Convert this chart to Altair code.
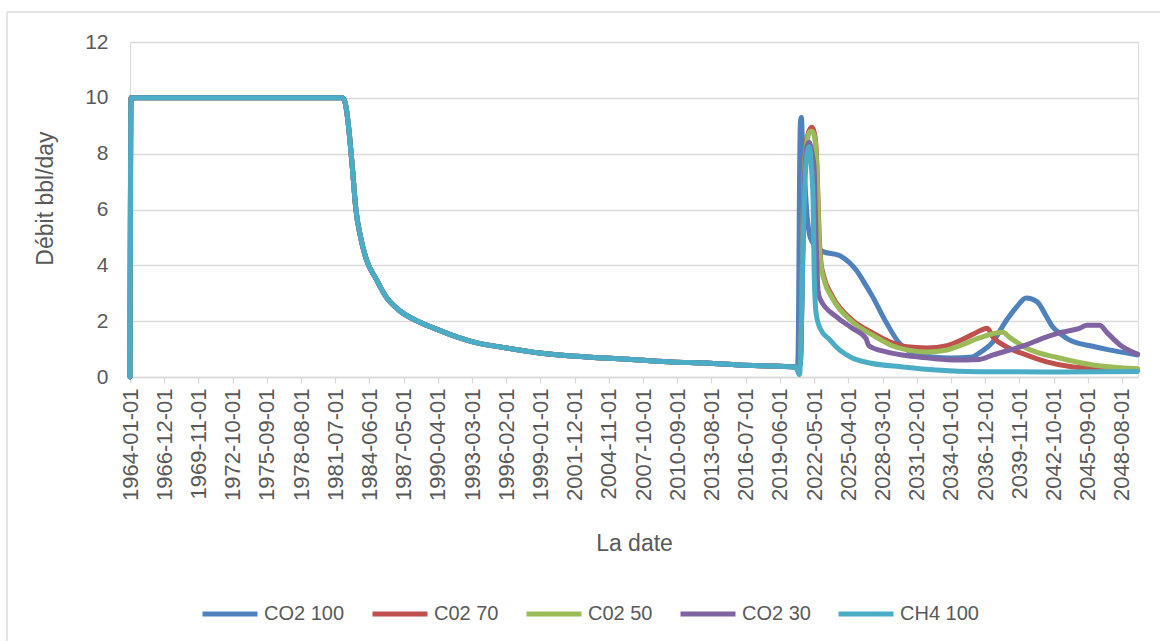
import altair as alt
import pandas as pd

series_names = ["CO2 100", "C02 70", "C02 50", "CO2 30", "CH4 100"]
series_colors = ["#4F81BD", "#C0504D", "#9BBB59", "#8064A2", "#4BACC6"]

# shared history (all runs identical before the injection)
hist_dates = ["1964-01", "1964-02", "1982-02", "1982-05", "1982-07", "1982-10", "1983-01",
              "1983-04", "1983-09", "1984-03", "1985-01", "1985-11", "1986-12", "1988-09",
              "1990-05", "1991-12", "1993-03", "1996-02", "1998-12", "2001-09", "2004-08",
              "2007-06", "2010-04", "2013-03", "2015-12", "2018-10", "2020-10"]
hist_values = [0, 10, 10, 9.85, 9.45, 8.5, 7.3, 6.05, 5.0, 4.2, 3.5, 2.87, 2.4, 1.97,
               1.68, 1.43, 1.27, 1.04, 0.86, 0.75, 0.68, 0.61, 0.54, 0.5, 0.43, 0.39, 0.36]

co2_100_dates = ["2020-12", "2021-01", "2021-02", "2021-03", "2021-04", "2021-05", "2021-07",
                 "2021-10", "2022-01", "2022-07", "2023-01", "2024-07", "2025-05", "2025-12",
                 "2026-08", "2027-05", "2028-07", "2029-08", "2030-07", "2031-06", "2032-06",
                 "2034-01", "2035-11", "2036-06", "2037-07", "2038-10", "2039-08", "2040-06",
                 "2041-05", "2042-03", "2042-09", "2043-05", "2044-02", "2046-02", "2047-07",
                 "2049-12"]
co2_100_values = [0.3, 2.0, 7.0, 9.1, 9.3, 8.5, 7.3, 5.7, 5.0, 4.66, 4.5, 4.35, 4.1, 3.83,
                  3.4, 2.87, 1.94, 1.22, 0.9, 0.78, 0.72, 0.68, 0.72, 0.86, 1.22, 2.04, 2.5,
                  2.83, 2.7, 2.15, 1.8, 1.55, 1.33, 1.1, 0.97, 0.79]

co2_70_dates = ["2020-12", "2021-03", "2021-05", "2021-07", "2021-10", "2022-01", "2022-03",
                "2022-06", "2022-08", "2022-10", "2022-12", "2023-03", "2023-12", "2025-08",
                "2027-05", "2029-01", "2030-04", "2031-12", "2033-09", "2034-10", "2035-11",
                "2036-06", "2037-02", "2037-08", "2038-10", "2040-06", "2042-03", "2044-06",
                "2046-02", "2049-12"]
co2_70_values = [0.3, 0.5, 4.0, 7.5, 8.6, 8.9, 8.95, 8.6, 7.5, 5.2, 4.1, 3.6, 2.87, 2.04,
                 1.58, 1.22, 1.08, 1.04, 1.12, 1.3, 1.52, 1.65, 1.75, 1.43, 1.08, 0.79, 0.54,
                 0.36, 0.32, 0.28]

co2_50_dates = ["2020-12", "2021-03", "2021-05", "2021-07", "2021-10", "2022-01", "2022-03",
                "2022-06", "2022-08", "2022-10", "2022-12", "2023-03", "2023-12", "2025-08",
                "2027-05", "2029-01", "2030-04", "2031-12", "2033-09", "2034-10", "2036-06",
                "2038-06", "2039-01", "2040-06", "2043-04", "2046-02", "2049-12"]
co2_50_values = [0.3, 0.5, 4.0, 7.4, 8.5, 8.8, 8.8, 8.5, 7.3, 5.0, 4.0, 3.5, 2.8, 1.98,
                 1.5, 1.12, 0.97, 0.9, 0.97, 1.12, 1.4, 1.6, 1.42, 1.04, 0.68, 0.43, 0.3]

co2_30_dates = ["2020-12", "2021-03", "2021-05", "2021-07", "2021-10", "2021-12", "2022-03",
                "2022-05", "2022-07", "2022-09", "2022-11", "2024-04", "2025-08", "2026-10",
                "2027-01", "2028-07", "2029-11", "2031-04", "2034-03", "2036-06", "2037-08",
                "2040-06", "2041-12", "2043-04", "2045-01", "2045-08", "2046-09", "2047-05",
                "2048-06", "2049-12"]
co2_30_values = [0.3, 0.5, 3.5, 7.0, 8.3, 8.4, 8.0, 7.5, 5.0, 3.1, 2.8, 2.15, 1.75, 1.38,
                 1.12, 0.9, 0.79, 0.72, 0.61, 0.63, 0.79, 1.15, 1.4, 1.58, 1.75, 1.85, 1.85,
                 1.58, 1.15, 0.82]

ch4_100_dates = ["2020-12", "2021-02", "2021-03", "2021-06", "2021-09", "2021-12", "2022-02",
                 "2022-04", "2022-05", "2022-07", "2022-11", "2023-09", "2024-07", "2025-08",
                 "2027-02", "2029-12", "2032-10", "2036-06", "2042-01", "2049-12"]
ch4_100_values = [0.22, 0.08, 0.5, 5.2, 7.8, 8.25, 7.6, 6.3, 3.9, 2.3, 1.75, 1.33, 0.97,
                  0.68, 0.5, 0.36, 0.25, 0.19, 0.18, 0.2]

tick_labels = ["1964-01-01", "1966-12-01", "1969-11-01", "1972-10-01", "1975-09-01",
               "1978-08-01", "1981-07-01", "1984-06-01", "1987-05-01", "1990-04-01",
               "1993-03-01", "1996-02-01", "1999-01-01", "2001-12-01", "2004-11-01",
               "2007-10-01", "2010-09-01", "2013-08-01", "2016-07-01", "2019-06-01",
               "2022-05-01", "2025-04-01", "2028-03-01", "2031-02-01", "2034-01-01",
               "2036-12-01", "2039-11-01", "2042-10-01", "2045-09-01", "2048-08-01"]

series_data = [
    (series_names[0], co2_100_dates, co2_100_values),
    (series_names[1], co2_70_dates, co2_70_values),
    (series_names[2], co2_50_dates, co2_50_values),
    (series_names[3], co2_30_dates, co2_30_values),
    (series_names[4], ch4_100_dates, ch4_100_values),
]

rows = []
for name, dts, vals in series_data:
    for d, v in zip(hist_dates + dts, hist_values + vals):
        rows.append({"series": name, "date": d + "-01T00:00:00", "value": v})
df = pd.DataFrame(rows)


def to_dt(s):
    y, m, d = s.split("-")
    return alt.DateTime(year=int(y), month=int(m), date=int(d))


tick_values = [to_dt(s) for s in tick_labels]

TXT = "#595959"
GRID = "#D9D9D9"
FONT = "Liberation Sans"

lines = alt.Chart(df).mark_line(
    strokeWidth=5, interpolate="monotone", strokeCap="round", strokeJoin="round"
).encode(
    x=alt.X(
        "date:T",
        scale=alt.Scale(domain=[alt.DateTime(year=1964, month=1, date=1),
                                alt.DateTime(year=2049, month=12, date=13)], nice=False),
        axis=alt.Axis(
            values=tick_values, format="%Y-%m-%d", labelAngle=270, labelAlign="right",
            labelBaseline="middle", labelFontSize=22, labelPadding=5, labelColor=TXT,
            labelFont=FONT, labelOverlap=False, labelFlush=False,
            tickSize=6, tickColor=GRID, tickWidth=1.3,
            domainColor=GRID, domainWidth=1.3, grid=False,
            title="La date", titleFontSize=23, titleFontWeight="normal", titleColor=TXT,
            titleFont=FONT, titleY=166, titleBaseline="middle",
        ),
    ),
    y=alt.Y(
        "value:Q",
        scale=alt.Scale(domain=[0, 12], nice=False),
        axis=alt.Axis(
            values=[0, 2, 4, 6, 8, 10, 12], grid=True, gridColor=GRID, gridWidth=1.3,
            domain=False, ticks=False, tickSize=0, labelPadding=22, labelFontSize=21,
            labelColor=TXT, labelFont=FONT,
            title="Débit bbl/day", titleFontSize=23, titleFontWeight="normal",
            titleColor=TXT, titleFont=FONT, titleX=-85, titleY=156, titleAngle=270,
            titleAlign="center", titleBaseline="middle",
        ),
    ),
    color=alt.Color(
        "series:N",
        scale=alt.Scale(domain=series_names, range=series_colors),
        sort=series_names,
        legend=alt.Legend(
            orient="none", legendX=70, legendY=542, direction="horizontal", columns=5,
            title=None, symbolType="stroke", symbolSize=3025, symbolStrokeWidth=5,
            labelFontSize=20, labelColor=TXT, labelFont=FONT, columnPadding=17,
            labelOffset=4,
        ),
    ),
)

border_df = pd.DataFrame({"k": [0]})
top_border = alt.Chart(border_df).mark_rule(color=GRID, strokeWidth=1.3).encode(
    x=alt.value(-123), x2=alt.value(1040), y=alt.value(-30)
)
left_border = alt.Chart(border_df).mark_rule(color=GRID, strokeWidth=1.3).encode(
    x=alt.value(-123), y=alt.value(-30), y2=alt.value(620)
)

chart = alt.layer(lines, top_border, left_border).properties(
    width=1008,
    height=335,
    autosize=alt.AutoSizeParams(type="none"),
    padding={"left": 130, "top": 42, "right": 22, "bottom": 264},
    background="white",
).configure_view(stroke=None).configure(font=FONT)

chart.save("out.html", embed_options={"renderer": "svg", "actions": False})
